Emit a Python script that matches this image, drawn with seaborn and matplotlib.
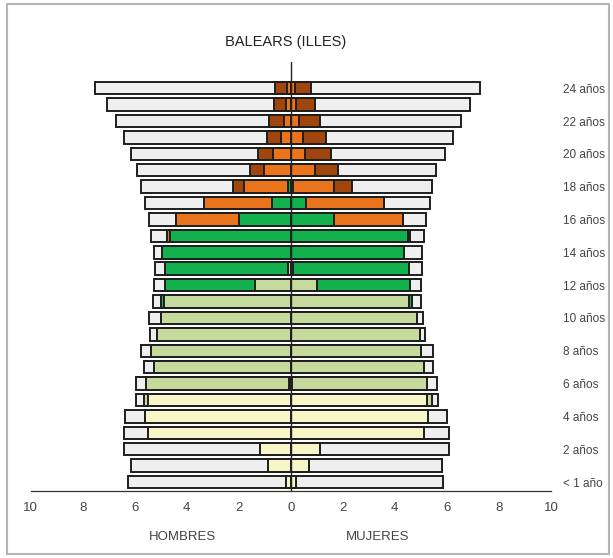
import numpy as np
import pandas as pd
import matplotlib
matplotlib.use("Agg")
import matplotlib.pyplot as plt
import seaborn as sns
from matplotlib.patches import Rectangle

# ages 0..24 (index = age)
edades = list(range(25))

# Hombres: segment lengths from the centre outwards (% of population)
h_infantil = [0.20, 0.87, 1.17, 5.47, 5.60, 5.47, 0.05, 0, 0, 0, 0, 0, 0, 0, 0, 0, 0, 0, 0, 0, 0, 0, 0, 0, 0]
h_primaria = [0, 0, 0, 0, 0, 0.18, 5.50, 5.26, 5.36, 5.13, 5.00, 4.88, 1.36, 0.10, 0, 0, 0, 0, 0, 0, 0, 0, 0, 0, 0]
h_eso = [0, 0, 0, 0, 0, 0, 0, 0, 0, 0, 0, 0.10, 3.47, 4.73, 4.95, 4.65, 2.00, 0.72, 0.10, 0, 0, 0, 0, 0, 0]
h_secundaria = [0, 0, 0, 0, 0, 0, 0, 0, 0, 0, 0, 0, 0, 0, 0, 0.10, 2.42, 2.61, 1.71, 1.03, 0.68, 0.38, 0.27, 0.17, 0.13]
h_universidad = [0, 0, 0, 0, 0, 0, 0, 0, 0, 0, 0, 0, 0, 0, 0, 0, 0, 0, 0.41, 0.52, 0.58, 0.55, 0.58, 0.47, 0.46]
h_total = [6.27, 6.13, 6.42, 6.40, 6.36, 5.96, 5.96, 5.64, 5.77, 5.40, 5.45, 5.30, 5.26, 5.23, 5.27, 5.36, 5.46, 5.59, 5.74, 5.90, 6.13, 6.42, 6.70, 7.07, 7.54]

# Mujeres
m_infantil = [0.20, 0.70, 1.12, 5.13, 5.27, 5.23, 0.06, 0, 0, 0, 0, 0, 0, 0, 0, 0, 0, 0, 0, 0, 0, 0, 0, 0, 0]
m_primaria = [0, 0, 0, 0, 0, 0.18, 5.18, 5.13, 5.01, 4.95, 4.87, 4.55, 1.01, 0.10, 0, 0, 0, 0, 0, 0, 0, 0, 0, 0, 0]
m_eso = [0, 0, 0, 0, 0, 0, 0, 0, 0, 0, 0, 0.12, 3.59, 4.45, 4.35, 4.51, 1.67, 0.60, 0.09, 0, 0, 0, 0, 0, 0]
m_secundaria = [0, 0, 0, 0, 0, 0, 0, 0, 0, 0, 0, 0, 0, 0, 0, 0.07, 2.65, 2.98, 1.56, 0.92, 0.56, 0.47, 0.31, 0.22, 0.18]
m_universidad = [0, 0, 0, 0, 0, 0, 0, 0, 0, 0, 0, 0, 0, 0, 0, 0, 0, 0, 0.72, 0.90, 0.99, 0.89, 0.83, 0.73, 0.58]
m_total = [5.85, 5.83, 6.10, 6.10, 6.01, 5.67, 5.63, 5.45, 5.45, 5.15, 5.07, 5.00, 5.01, 5.05, 5.05, 5.13, 5.18, 5.35, 5.43, 5.58, 5.92, 6.24, 6.55, 6.88, 7.27]

colores = ["#f6f6c6", "#c6da9e", "#13b04e", "#e9741b", "#a0460c"]
gris = "#efefef"
borde = "#1e1e1e"

etiquetas = {a: ("< 1 año" if a == 0 else f"{a} años") for a in range(0, 25, 2)}

# order top -> bottom
orden = [str(a) for a in edades[::-1]]

sns.set_style("white")
plt.rcParams["font.family"] = ["Liberation Sans", "DejaVu Sans"]

fig = plt.figure(figsize=(6.13, 5.58), dpi=100)
ax = fig.add_axes([0.0498, 0.120, 0.849, 0.769])


def dibujar(segmentos, total, signo):
    cum = np.cumsum(np.array(segmentos), axis=0)
    df = pd.DataFrame({"edad": [str(a) for a in edades], "valor": signo * np.array(total)})
    sns.barplot(data=df, x="valor", y="edad", order=orden, orient="h", color=gris,
                saturation=1, edgecolor=borde, linewidth=1.4, width=0.76, errorbar=None, ax=ax)
    for k in range(len(segmentos) - 1, -1, -1):
        df = pd.DataFrame({"edad": [str(a) for a in edades], "valor": signo * cum[k]})
        sns.barplot(data=df, x="valor", y="edad", order=orden, orient="h", color=colores[k],
                    saturation=1, edgecolor=borde, linewidth=1.4, width=0.76, errorbar=None, ax=ax)


dibujar([h_infantil, h_primaria, h_eso, h_secundaria, h_universidad], h_total, -1)
dibujar([m_infantil, m_primaria, m_eso, m_secundaria, m_universidad], m_total, 1)

ax.set_xlim(-10, 10)
ax.set_ylim(24.55, -1.6)
ax.axvline(0, color="#222222", lw=1.0, zorder=5)

ax.set_xticks(range(-10, 11, 2))
ax.set_xticklabels([str(abs(v)) for v in range(-10, 11, 2)])
ax.tick_params(axis="x", direction="in", length=4, width=0.8, color="#333333",
               labelsize=9.5, labelcolor="#444444", pad=8)

ax.yaxis.tick_right()
pos = [orden.index(str(a)) for a in etiquetas]
ax.set_yticks(pos)
ax.set_yticklabels(list(etiquetas.values()))
ax.tick_params(axis="y", length=0, labelsize=8.5, labelcolor="#444444", pad=9)
ax.set_xlabel("")
ax.set_ylabel("")

for s in ["top", "left", "right"]:
    ax.spines[s].set_visible(False)
ax.spines["bottom"].set_color("#333333")
ax.spines["bottom"].set_linewidth(0.9)

fig.text(0.4666, 0.925, "BALEARS (ILLES)", ha="center", va="center", fontsize=10.5, color="#222222")
fig.text(0.2985, 0.038, "HOMBRES", ha="center", va="center", fontsize=9.5, color="#444444")
fig.text(0.6166, 0.038, "MUJERES", ha="center", va="center", fontsize=9.5, color="#444444")

fig.patches.append(Rectangle((0.011, 0.007), 0.982, 0.986, transform=fig.transFigure,
                             fill=False, edgecolor="#b5b5b5", lw=1.5))

fig.savefig("out.png", dpi=100)
